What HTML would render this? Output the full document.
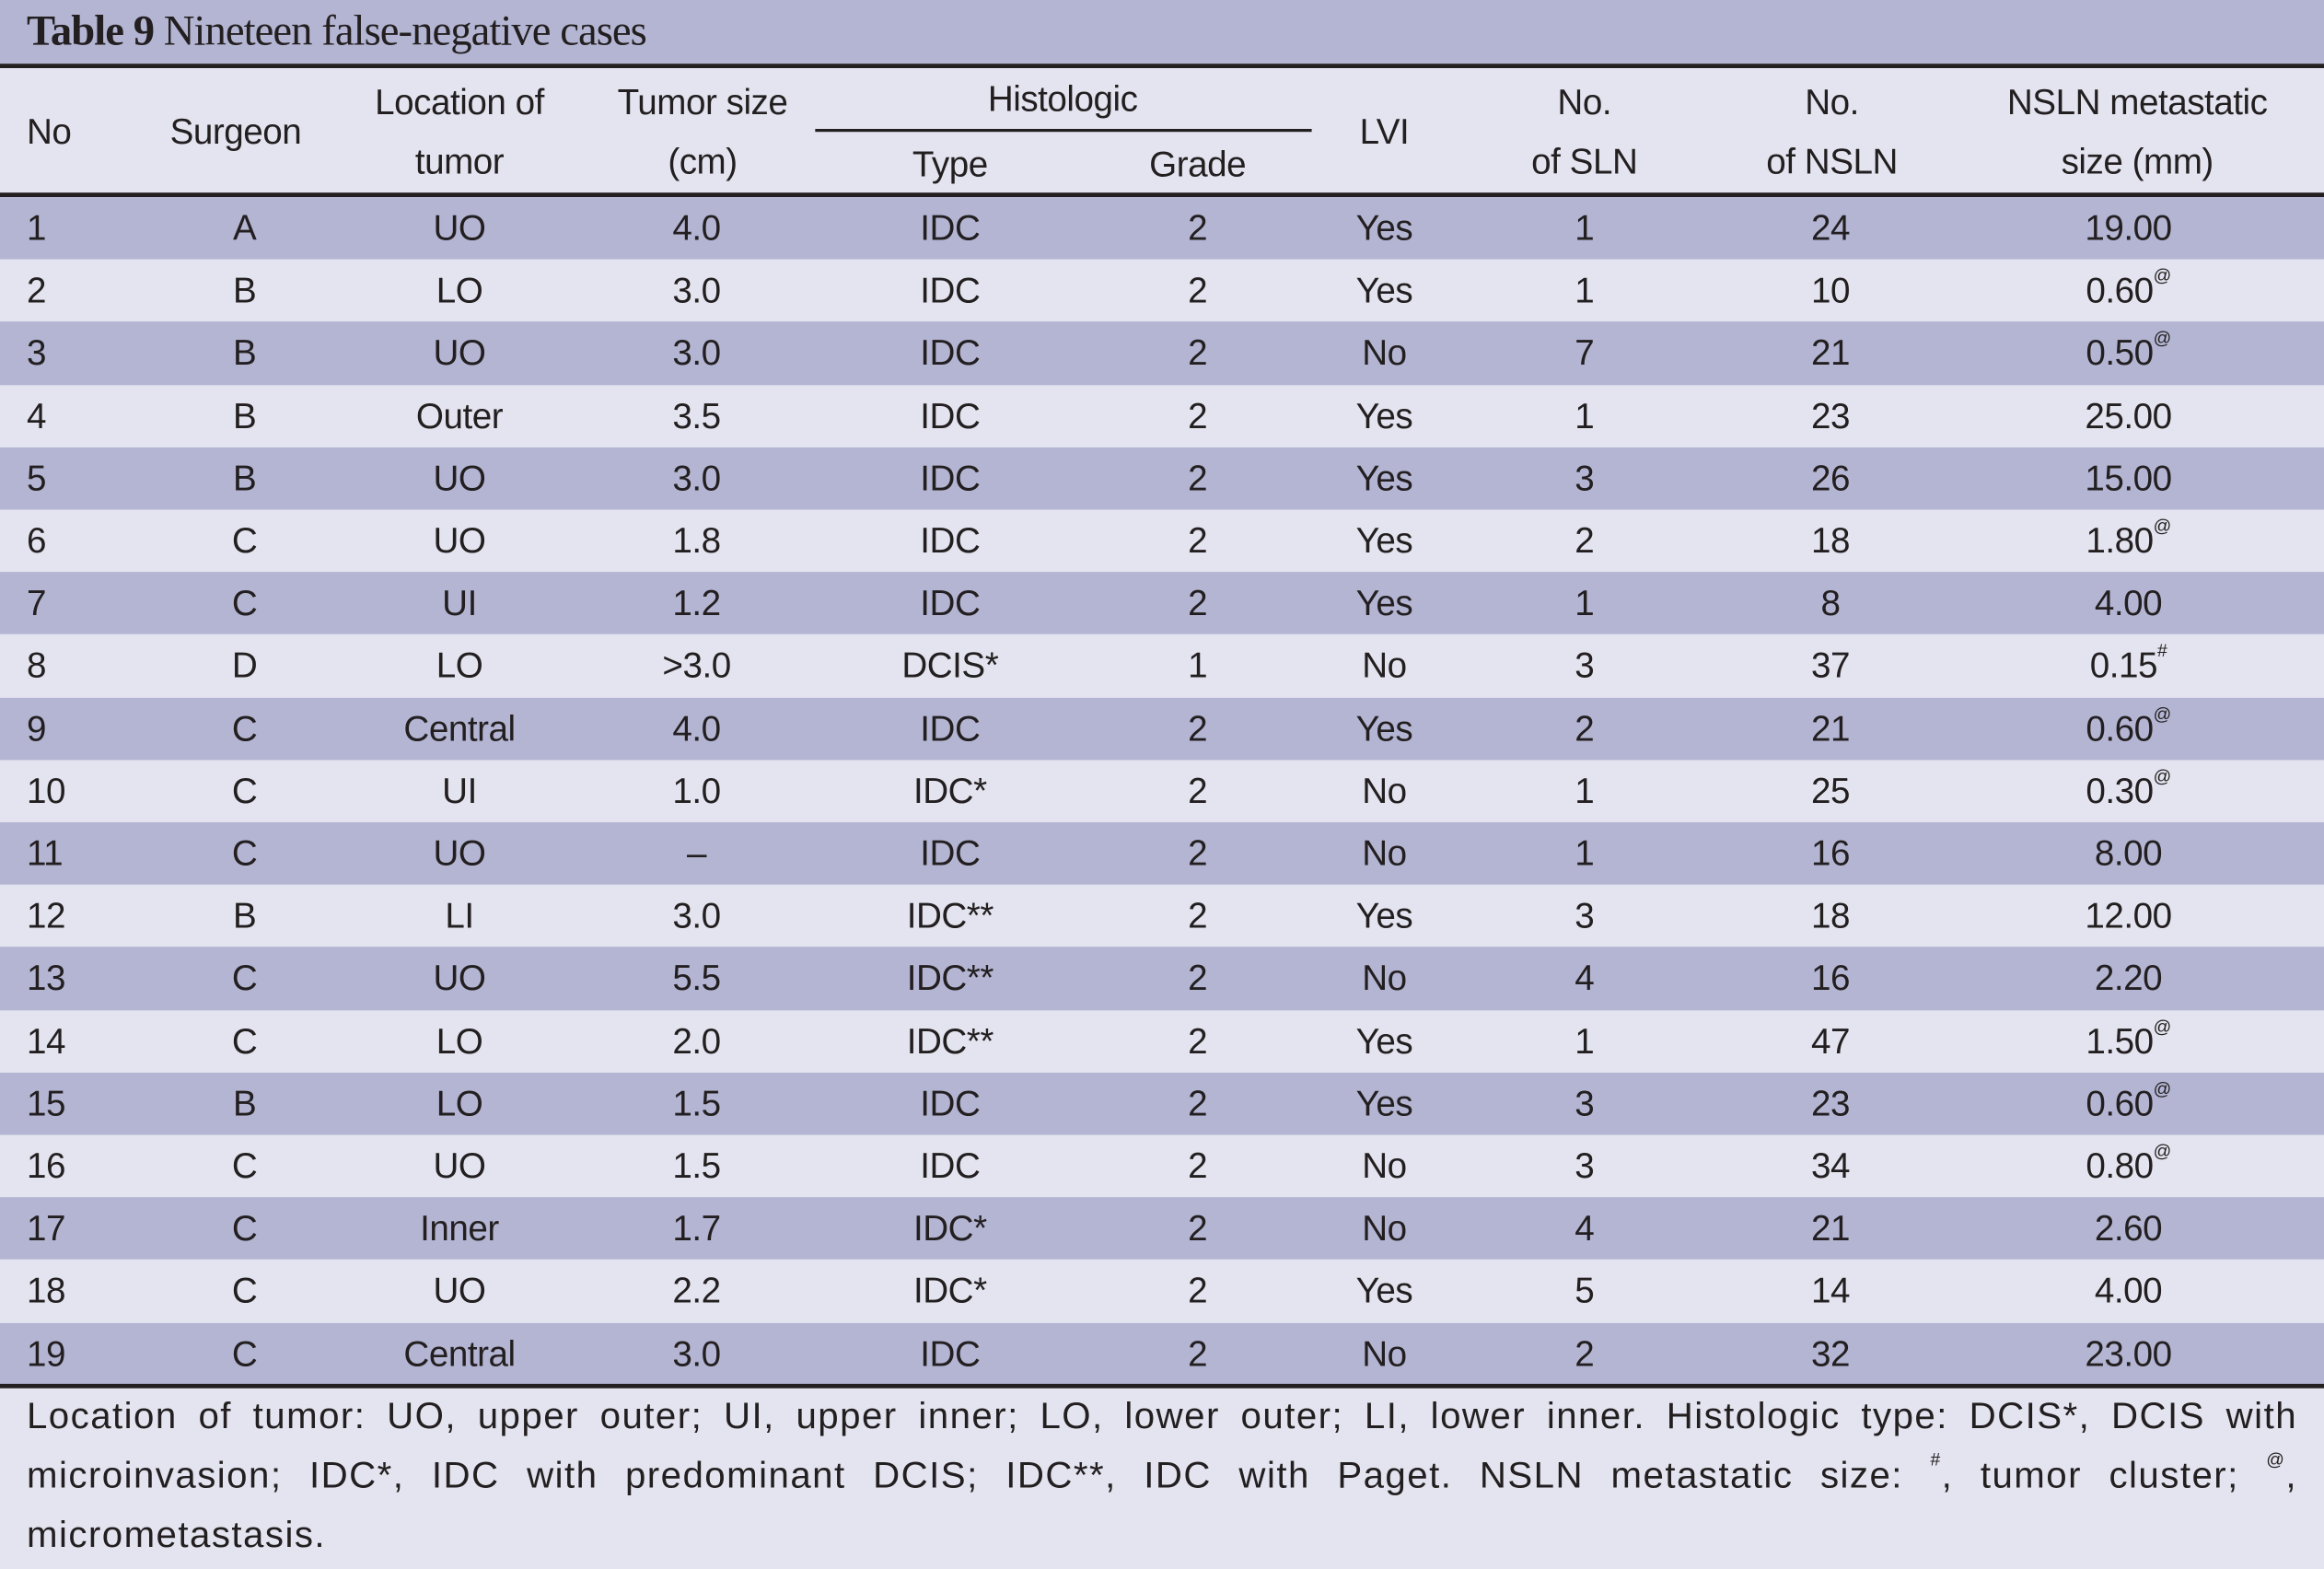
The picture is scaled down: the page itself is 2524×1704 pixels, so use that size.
<!DOCTYPE html>
<html><head><meta charset="utf-8">
<style>
html,body{margin:0;padding:0;width:2524px;height:1704px;overflow:hidden;background:#e3e4ef;}
#wrap{position:absolute;left:0;top:0;width:1568px;height:1059px;transform:scale(1.6097,1.6091);transform-origin:0 0;font-family:"Liberation Sans",sans-serif;color:#231f20;}
.band{position:absolute;left:0;width:1568px;}
.rule{position:absolute;left:0;width:1568px;height:3px;background:#231f20;}
.t{position:absolute;font-size:24px;white-space:nowrap;transform:translateX(-50%);letter-spacing:-0.3px}
.l{transform:none}
sup{font-size:12px;vertical-align:top;position:relative;top:-4px}
.foot{position:absolute;left:18px;width:1532px;font-size:25px;text-align:justify;text-align-last:justify;white-space:nowrap;letter-spacing:0.9px}
</style></head><body>
<div id="wrap">
<div class="band" style="top:0;height:43px;background:#b3b5d3"></div>
<div style="position:absolute;left:18px;top:5px;font-family:'Liberation Serif',serif;font-size:29px;letter-spacing:-0.6px"><b>Table 9</b> Nineteen false-negative cases</div>
<div class="rule" style="top:43px"></div>
<div class="band" style="top:46px;height:85px;background:#e3e4ef"></div>
<div class="t l" style="left:18px;top:76px">No</div>
<div class="t" style="left:159px;top:76px">Surgeon</div>
<div class="t" style="left:310px;top:56px">Location of</div>
<div class="t" style="left:310px;top:96px">tumor</div>
<div class="t" style="left:474px;top:56px">Tumor size</div>
<div class="t" style="left:474px;top:96px">(cm)</div>
<div class="t" style="left:717px;top:54px">Histologic</div>
<div style="position:absolute;left:550px;top:87px;width:335px;height:2px;background:#231f20"></div>
<div class="t" style="left:641px;top:98px">Type</div>
<div class="t" style="left:808px;top:98px">Grade</div>
<div class="t" style="left:934px;top:76px">LVI</div>
<div class="t" style="left:1069px;top:56px">No.</div>
<div class="t" style="left:1069px;top:96px">of SLN</div>
<div class="t" style="left:1236px;top:56px">No.</div>
<div class="t" style="left:1236px;top:96px">of NSLN</div>
<div class="t" style="left:1442px;top:56px">NSLN metastatic</div>
<div class="t" style="left:1442px;top:96px">size (mm)</div>
<div class="rule" style="top:130px"></div>
<div id="rows"></div>
<div class="rule" style="top:934px"></div>
<div class="foot" style="top:942px">Location of tumor: UO, upper outer; UI, upper inner; LO, lower outer; LI, lower inner. Histologic type: DCIS*, DCIS with</div>
<div class="foot" style="top:982px">microinvasion; IDC*, IDC with predominant DCIS; IDC**, IDC with Paget. NSLN metastatic size: <sup>#</sup>, tumor cluster; <sup>@</sup>,</div>
<div class="foot" style="top:1022px;text-align-last:left">micrometastasis.</div>
</div>
<script>
const nos=["1","2","3","4","5","6","7","8","9","10","11","12","13","14","15","16","17","18","19"];
const surgeons=["A","B","B","B","B","C","C","D","C","C","C","B","C","C","B","C","C","C","C"];
const locs=["UO","LO","UO","Outer","UO","UO","UI","LO","Central","UI","UO","LI","UO","LO","LO","UO","Inner","UO","Central"];
const sizes=["4.0","3.0","3.0","3.5","3.0","1.8","1.2",">3.0","4.0","1.0","–","3.0","5.5","2.0","1.5","1.5","1.7","2.2","3.0"];
const types=["IDC","IDC","IDC","IDC","IDC","IDC","IDC","DCIS*","IDC","IDC*","IDC","IDC**","IDC**","IDC**","IDC","IDC","IDC*","IDC*","IDC"];
const grades=["2","2","2","2","2","2","2","1","2","2","2","2","2","2","2","2","2","2","2"];
const lvis=["Yes","Yes","No","Yes","Yes","Yes","Yes","No","Yes","No","No","Yes","No","Yes","Yes","No","No","Yes","No"];
const slns=["1","1","7","1","3","2","1","3","2","1","1","3","4","1","3","3","4","5","2"];
const nslns=["24","10","21","23","26","18","8","37","21","25","16","18","16","47","23","34","21","14","32"];
const mets=["19.00","0.60","0.50","25.00","15.00","1.80","4.00","0.15","0.60","0.30","8.00","12.00","2.20","1.50","0.60","0.80","2.60","4.00","23.00"];
const marks=["","@","@","","","@","","#","@","@","","","","@","@","@","","",""];
const xs=[18,165,310,470,641,808,934,1069,1235,1436];
const rowsEl=document.getElementById('rows');
const top0=133, rh=42.2;
for(let i=0;i<nos.length;i++){
  const y=top0+i*rh;
  const band=document.createElement('div');
  band.className='band';
  band.style.top=y+'px';band.style.height=(rh+0.5)+'px';
  band.style.background=i%2===0?'#b3b5d3':'#e3e4ef';
  
  
  rowsEl.appendChild(band);
  const vals=[nos[i],surgeons[i],locs[i],sizes[i],types[i],grades[i],lvis[i],slns[i],nslns[i],mets[i]];
  const names=['no','surgeon','location','tumor-size','type','grade','lvi','sln','nsln','met-size'];
  for(let c=0;c<vals.length;c++){
    const d=document.createElement('div');
    d.className='t'+(c===0?' l':'');
    d.style.left=xs[c]+'px';d.style.top=(y+8)+'px';
    d.textContent=vals[c];
    if(c===9&&marks[i]){const s=document.createElement('sup');s.textContent=marks[i];d.appendChild(s);}
    
    
    rowsEl.appendChild(d);
  }
}
</script>
</body></html>
